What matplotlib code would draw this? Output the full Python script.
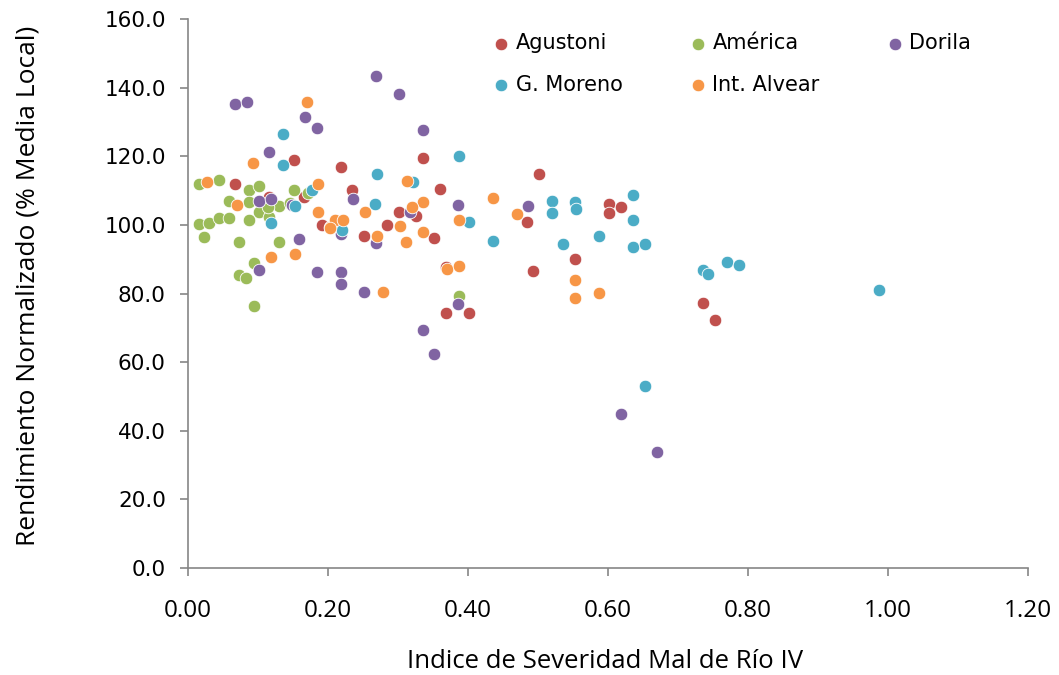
import matplotlib
matplotlib.use("Agg")
import matplotlib.pyplot as plt
from matplotlib.ticker import FormatStrFormatter

# ---- data ----
agustoni_x = [0.067, 0.151, 0.166, 0.116, 0.191, 0.219, 0.234, 0.360, 0.336, 0.301, 0.326,
              0.284, 0.251, 0.351, 0.369, 0.369, 0.401, 0.501, 0.484, 0.601, 0.601, 0.619,
              0.553, 0.493, 0.736, 0.753]
agustoni_y = [112.0, 119.0, 108.2, 108.2, 100.0, 116.9, 110.2, 110.5, 119.5, 103.8, 102.6,
              100.0, 96.8, 96.2, 87.8, 74.3, 74.3, 114.9, 100.9, 106.1, 103.5, 105.2,
              90.1, 86.6, 77.3, 72.3]

america_x = [0.016, 0.044, 0.087, 0.101, 0.151, 0.171, 0.059, 0.087, 0.101, 0.130, 0.016,
             0.030, 0.044, 0.059, 0.087, 0.116, 0.023, 0.073, 0.130, 0.094, 0.073, 0.083,
             0.094, 0.387, 0.114, 0.146]
america_y = [112.0, 113.1, 110.2, 111.4, 110.2, 109.3, 107.0, 106.7, 103.8, 105.5, 100.3,
             100.6, 102.0, 102.0, 101.5, 102.3, 96.5, 95.0, 95.0, 88.9, 85.4, 84.5,
             76.4, 79.3, 105.2, 106.4]

dorila_x = [0.067, 0.084, 0.167, 0.184, 0.116, 0.101, 0.119, 0.149, 0.159, 0.101, 0.184,
            0.269, 0.301, 0.336, 0.236, 0.386, 0.317, 0.219, 0.269, 0.219, 0.219, 0.251,
            0.386, 0.336, 0.351, 0.486, 0.619, 0.670]
dorila_y = [135.3, 135.9, 131.5, 128.3, 121.3, 107.0, 107.6, 105.8, 95.9, 86.9, 86.3,
            143.4, 138.2, 127.7, 107.6, 105.8, 103.8, 97.4, 94.8, 86.3, 82.8, 80.5,
            77.0, 69.4, 62.4, 105.5, 44.9, 33.8]

moreno_x = [0.136, 0.136, 0.177, 0.153, 0.119, 0.387, 0.270, 0.321, 0.267, 0.401, 0.220,
            0.520, 0.520, 0.553, 0.554, 0.636, 0.636, 0.436, 0.536, 0.587, 0.636, 0.653,
            0.736, 0.743, 0.770, 0.787, 0.987, 0.653]
moreno_y = [126.5, 117.5, 110.2, 105.5, 100.6, 120.1, 114.9, 112.5, 106.1, 100.9, 98.5,
            107.0, 103.5, 106.7, 104.7, 108.7, 101.5, 95.3, 94.5, 96.8, 93.6, 94.5,
            86.9, 85.7, 89.2, 88.3, 81.0, 53.1]

alvear_x = [0.170, 0.093, 0.027, 0.186, 0.070, 0.186, 0.203, 0.119, 0.153, 0.313, 0.253,
            0.336, 0.320, 0.387, 0.210, 0.221, 0.203, 0.303, 0.270, 0.311, 0.336, 0.370,
            0.387, 0.279, 0.436, 0.470, 0.553, 0.553, 0.587]
alvear_y = [135.9, 118.1, 112.5, 112.0, 105.8, 103.8, 99.4, 90.7, 91.5, 112.8, 103.8,
            106.7, 105.2, 101.5, 101.5, 101.5, 99.1, 99.7, 96.8, 95.0, 98.0, 87.2,
            88.0, 80.5, 107.9, 103.2, 84.0, 78.7, 80.2]

series_names = ["Agustoni", "América", "Dorila", "G. Moreno", "Int. Alvear"]
series_x = [agustoni_x, america_x, dorila_x, moreno_x, alvear_x]
series_y = [agustoni_y, america_y, dorila_y, moreno_y, alvear_y]
colors = ["#C0504D", "#9BBB59", "#8064A2", "#4BACC6", "#F79646"]

x_ticks = [0.0, 0.2, 0.4, 0.6, 0.8, 1.0, 1.2]
y_ticks = [0, 20, 40, 60, 80, 100, 120, 140, 160]

# ---- figure ----
fig = plt.figure(figsize=(10.59, 6.75), dpi=100)
ax = fig.add_axes([188/1059, 107/675, 840/1059, 549/675])

handles = {}
for name, xs, ys, c in zip(series_names, series_x, series_y, colors):
    h = ax.scatter(xs, ys, s=82, color=c, edgecolors="white", linewidths=0.6,
                   label=name, zorder=3)
    handles[name] = h

ax.set_xlim(0, 1.2)
ax.set_ylim(0, 160)
ax.set_xticks(x_ticks)
ax.set_yticks(y_ticks)
ax.xaxis.set_major_formatter(FormatStrFormatter("%.2f"))
ax.yaxis.set_major_formatter(FormatStrFormatter("%.1f"))

for s in ["top", "right"]:
    ax.spines[s].set_visible(False)
for s in ["left", "bottom"]:
    ax.spines[s].set_color("#868686")
    ax.spines[s].set_linewidth(1.2)
ax.tick_params(axis="both", direction="out", length=6, width=1.2, color="#868686",
               labelcolor="black")
ax.tick_params(axis="x", pad=16)
ax.tick_params(axis="y", pad=10)
for lbl in ax.get_xticklabels():
    lbl.set_family(["Open Sans", "DejaVu Sans"])
    lbl.set_fontsize(17.5)
for lbl in ax.get_yticklabels():
    lbl.set_family(["DejaVu Sans"])
    lbl.set_fontsize(15.5)

ax.set_xlabel("Indice de Severidad Mal de Río IV", fontsize=18.5,
              family=["Open Sans", "DejaVu Sans"], va="center")
ax.xaxis.set_label_coords((605 - 188) / 840, (568 - 662) / 549)
ax.set_ylabel("Rendimiento Normalizado (% Media Local)", fontsize=19,
              family=["Open Sans", "DejaVu Sans"], va="center")
ax.yaxis.set_label_coords((28 - 188) / 840, (568 - 286) / 549)

order = ["Agustoni", "G. Moreno", "América", "Int. Alvear", "Dorila"]
leg = fig.legend([handles[n] for n in order], order, ncol=3, frameon=False,
                 loc="upper left", bbox_to_anchor=(491/1059, 1 - 33/675),
                 prop={"family": ["DejaVu Sans"], "size": 15},
                 handlelength=1.0, handletextpad=0.2, columnspacing=3.1,
                 labelspacing=1.05, markerscale=1.0, scatterpoints=1,
                 borderaxespad=0, borderpad=0)

fig.savefig("out.png", dpi=100)
